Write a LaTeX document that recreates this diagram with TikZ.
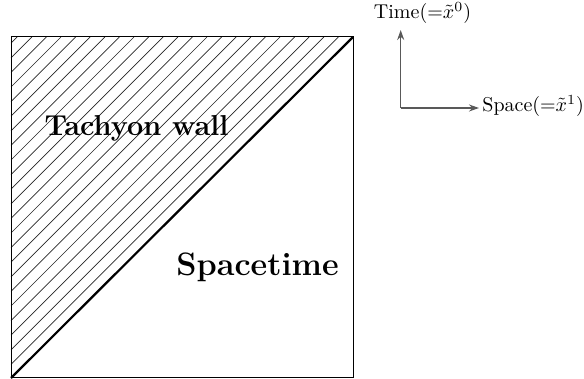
\documentclass[tikz,border=0pt]{standalone}
\usetikzlibrary{arrows.meta}
\begin{document}
\begin{tikzpicture}[x=0.5pt,y=-0.5pt,
  hatch/.style={line width=0.35pt,black!85},
  frame/.style={line width=0.5pt},
  wall/.style={line width=1.1pt},
  axis/.style={line width=0.7pt,black!65,-{Stealth[length=5pt,width=3.5pt]}},
  biglabel/.style={font=\Large\bfseries,inner sep=0pt},
  axlabel/.style={inner sep=0pt}]
\useasboundingbox (0,0) rectangle (584,379);
% frame corners
\coordinate (bl) at (11,378);
\coordinate (tr) at (353,37);
% hatching
\foreach \k in {1,...,23}{
  \pgfmathsetmacro{\d}{14.6*\k}
  \draw[hatch] (353-\d,37) -- (11,379-\d);
}
\draw[frame] (bl) rectangle (tr);
\draw[wall] (bl) -- (tr);
\node[biglabel] (tw) at (136.5,128) {Tachyon wall};
\node[biglabel,font=\fontsize{16.2}{19}\selectfont\bfseries] (st) at (257.5,267) {Spacetime};
% axes
\coordinate (o) at (400.7,108);
\coordinate (ty) at (400.7,30);
\coordinate (tx) at (479,108);
\draw[axis] (o) -- (ty);
\draw[axis] (o) -- (tx);
\node[axlabel] (timelab) at (422.5,13) {Time(${=}\tilde{x}^0$)};
\node[axlabel,anchor=west] (spacelab) at (482,106) {Space(${=}\tilde{x}^1$)};
\end{tikzpicture}
\end{document}
